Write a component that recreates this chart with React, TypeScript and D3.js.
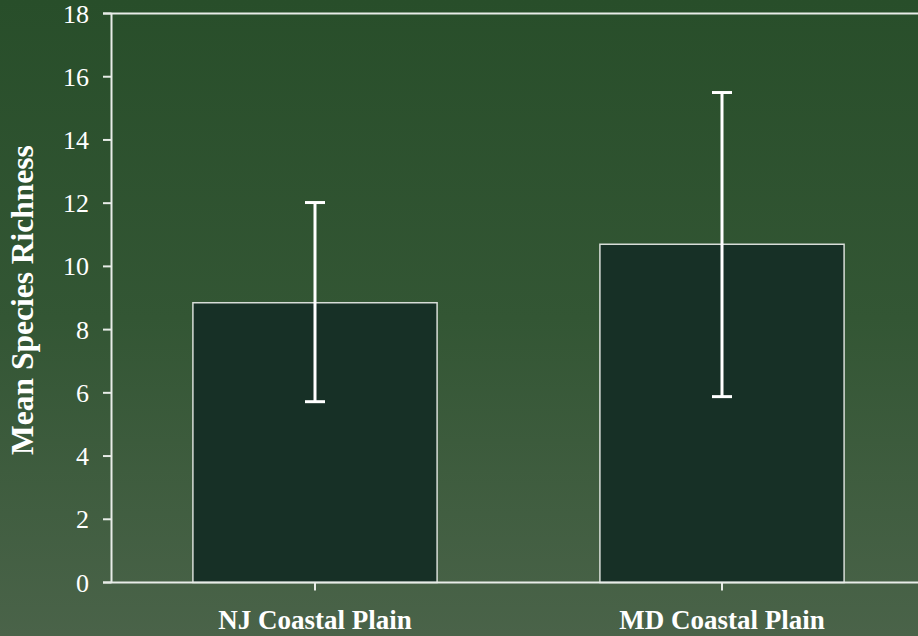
import React from "react";
import * as d3 from "d3";

const categories = ["NJ Coastal Plain", "MD Coastal Plain"];
const means = [8.85, 10.7];
const errLow = [5.72, 5.88];
const errHigh = [12.02, 15.5];
const yTicks = [0, 2, 4, 6, 8, 10, 12, 14, 16, 18];

export default function App() {
  const W = 918, H = 636;
  const left = 111.5, top = 13.5, bottom = 582.5;
  const x = d3.scaleBand().domain(categories).range([left, left + 814]).paddingInner(0.4).paddingOuter(0.2);
  const y = d3.scaleLinear().domain([0, 18]).range([bottom, top]);
  const bw = x.bandwidth();
  return (
    <svg width={W} height={H} style={{ position: "absolute", left: 0, top: 0 }}>
      <defs>
        <linearGradient id="bg" x1="0" y1="0" x2="0" y2="1">
          <stop offset="0" stopColor="#284e2a" />
          <stop offset="0.5" stopColor="#335634" />
          <stop offset="1" stopColor="#4a6349" />
        </linearGradient>
      </defs>
      <rect x={0} y={0} width={W} height={H} fill="url(#bg)" />
      <line x1={103} x2={W} y1={top} y2={top} stroke="#e8ece8" strokeWidth={2} />
      {categories.map((c, i) => (
        <rect key={c} x={x(c)!} y={y(means[i])} width={bw} height={bottom - y(means[i])}
          fill="#173026" stroke="#d8ddd8" strokeWidth={1.5} />
      ))}
      {categories.map((c, i) => {
        const cx = x(c)! + bw / 2;
        return (
          <g key={c + "e"} stroke="#ffffff" strokeWidth={3}>
            <line x1={cx} x2={cx} y1={y(errHigh[i])} y2={y(errLow[i])} />
            <line x1={cx - 10} x2={cx + 10} y1={y(errHigh[i])} y2={y(errHigh[i])} />
            <line x1={cx - 10} x2={cx + 10} y1={y(errLow[i])} y2={y(errLow[i])} />
          </g>
        );
      })}
      <line x1={left} x2={left} y1={top} y2={bottom} stroke="#e8ece8" strokeWidth={2} />
      <line x1={103} x2={W} y1={bottom} y2={bottom} stroke="#e8ece8" strokeWidth={2} />
      {yTicks.map((t) => (
        <g key={t}>
          <line x1={103} x2={left} y1={y(t)} y2={y(t)} stroke="#e8ece8" strokeWidth={2} />
          <text x={89} y={y(t)} dy="0.35em" textAnchor="end" fill="#ffffff"
            fontFamily="'Liberation Serif', serif" fontSize={26}>{t}</text>
        </g>
      ))}
      {categories.map((c) => {
        const cx = x(c)! + bw / 2;
        return (
          <g key={c + "t"}>
            <line x1={cx} x2={cx} y1={bottom} y2={bottom + 8} stroke="#e8ece8" strokeWidth={2} />
            <text x={cx} y={629} textAnchor="middle" fill="#ffffff" fontWeight="bold"
              fontFamily="'Liberation Serif', serif" fontSize={27}>{c}</text>
          </g>
        );
      })}
      <text transform={`translate(33,300) rotate(-90)`} textAnchor="middle" fill="#ffffff" fontWeight="bold"
        fontFamily="'Liberation Serif', serif" fontSize={31.5}>Mean Species Richness</text>
    </svg>
  );
}
